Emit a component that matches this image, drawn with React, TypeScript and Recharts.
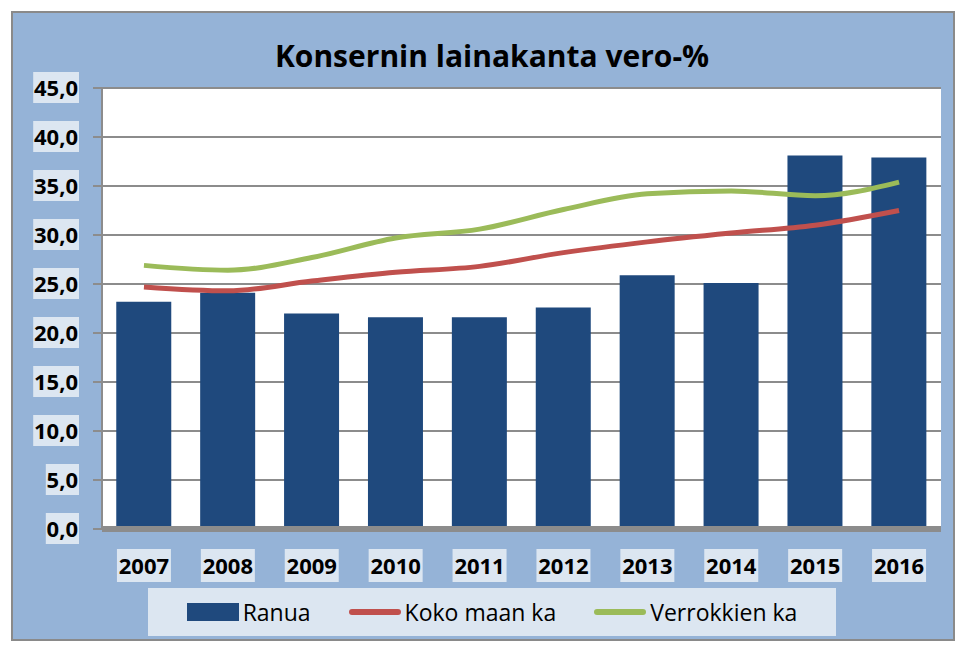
import React from "react";
import {
  ComposedChart,
  Bar,
  Line,
  XAxis,
  YAxis,
  CartesianGrid,
} from "recharts";

const years = ["2007", "2008", "2009", "2010", "2011", "2012", "2013", "2014", "2015", "2016"];
const ranua = [23.2, 24.1, 22.0, 21.6, 21.6, 22.6, 25.9, 25.1, 38.1, 37.9];
const kokoMaan = [24.7, 24.3, 25.3, 26.2, 26.8, 28.2, 29.3, 30.2, 31.0, 32.5];
const verrokit = [26.9, 26.4, 27.7, 29.7, 30.6, 32.6, 34.2, 34.5, 34.0, 35.4];
const yTicks = [0, 5, 10, 15, 20, 25, 30, 35, 40, 45];

const data = years.map((year, i) => ({
  year,
  ranua: ranua[i],
  koko: kokoMaan[i],
  verrokit: verrokit[i],
}));

const FONT = "'Open Sans', sans-serif";
const BOX = "#DCE6F1";

const fmt = (v: number) => v.toFixed(1).replace(".", ",");

const textWidth = (s: string) =>
  s.split("").reduce((w, c) => w + (c === "," ? 6 : 12.6), 0);

const YTick = (props: any) => {
  const { x, y, payload } = props;
  const label = fmt(payload.value);
  const w = textWidth(label) + 2;
  return (
    <g>
      <rect x={x - w + 1} y={y - 16} width={w} height={31} fill={BOX} />
      <text
        x={x}
        y={y + 8}
        textAnchor="end"
        fontFamily={FONT}
        fontWeight={700}
        fontSize={22}
        fill="#000"
      >
        {label}
      </text>
    </g>
  );
};

const XTick = (props: any) => {
  const { x, y, payload } = props;
  return (
    <g>
      <rect x={x - 27} y={y} width={54} height={33} fill={BOX} />
      <text
        x={x}
        y={y + 25}
        textAnchor="middle"
        fontFamily={FONT}
        fontWeight={700}
        fontSize={22}
        fill="#000"
      >
        {payload.value}
      </text>
    </g>
  );
};

const legendItems = [
  { label: "Ranua", color: "#1F497D", kind: "bar" },
  { label: "Koko maan ka", color: "#C0504D", kind: "line" },
  { label: "Verrokkien ka", color: "#9BBB59", kind: "line" },
];

export default function App() {
  return (
    <div
      style={{
        position: "relative",
        marginLeft: 3,
        marginTop: 3,
        width: 940,
        height: 626,
        border: "2px solid #8a8a8a",
        background: "#95B3D7",
        fontFamily: FONT,
      }}
    >
      <div
        style={{
          position: "absolute",
          left: 0,
          top: 23,
          width: 958,
          textAlign: "center",
          fontWeight: 700,
          fontSize: 30,
          lineHeight: "40px",
          color: "#000",
        }}
      >
        Konsernin lainakanta vero-%
      </div>
      <ComposedChart
        width={940}
        height={626}
        data={data}
        margin={{ top: 75, right: 12, bottom: 50, left: 9 }}
        barCategoryGap="17%"
      >
        <CartesianGrid
          vertical={false}
          stroke="#8c8c8c"
          strokeWidth={2}
          fill="#ffffff"
          fillOpacity={1}
        />
        <XAxis
          dataKey="year"
          axisLine={{ stroke: "#8c8c8c", strokeWidth: 6 }}
          tickLine={false}
          tick={<XTick />}
          tickMargin={14}
          interval={0}
          height={60}
        />
        <YAxis
          width={80}
          domain={[0, 45]}
          ticks={yTicks}
          interval={0}
          axisLine={{ stroke: "#8c8c8c", strokeWidth: 2 }}
          tickLine={{ stroke: "#8c8c8c", strokeWidth: 2 }}
          tickSize={9}
          tickMargin={15}
          tick={<YTick />}
        />
        <Bar dataKey="ranua" fill="#1F497D" isAnimationActive={false} />
        <Line
          dataKey="koko"
          type="monotone"
          stroke="#C0504D"
          strokeWidth={5}
          dot={false}
          isAnimationActive={false}
        />
        <Line
          dataKey="verrokit"
          type="monotone"
          stroke="#9BBB59"
          strokeWidth={5}
          dot={false}
          isAnimationActive={false}
        />
      </ComposedChart>
      <div
        style={{
          position: "absolute",
          left: 135,
          top: 575,
          width: 688,
          height: 48,
          background: BOX,
          display: "flex",
          alignItems: "center",
          justifyContent: "center",
          gap: 38,
          fontSize: 23,
          color: "#000",
        }}
      >
        {legendItems.map((item) => (
          <div key={item.label} style={{ display: "flex", alignItems: "center" }}>
            <span
              style={{
                display: "inline-block",
                width: 52,
                height: item.kind === "bar" ? 18 : 6,
                borderRadius: item.kind === "bar" ? 0 : 3,
                background: item.color,
                marginRight: 4,
              }}
            />
            <span>{item.label}</span>
          </div>
        ))}
      </div>
    </div>
  );
}
